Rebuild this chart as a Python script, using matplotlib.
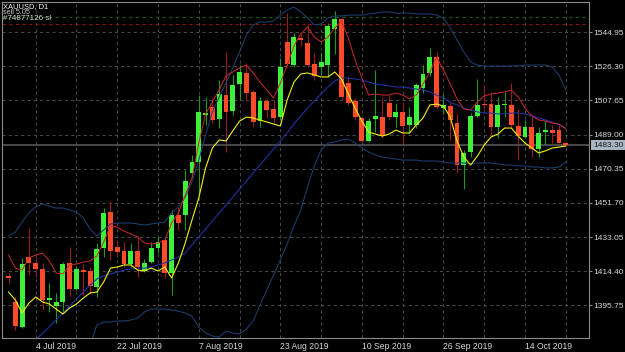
import numpy as np
import pandas as pd
import matplotlib
matplotlib.use("Agg")
import matplotlib.pyplot as plt
from matplotlib.transforms import blended_transform_factory

plt.rcParams['font.family'] = ['Liberation Sans', 'DejaVu Sans']

# ---------------- data (XAUUSD, D1) ----------------
dates = pd.bdate_range('2019-06-28', '2019-10-22')

open_ = [1411.5, 1397.7, 1384.1, 1422.3, 1419.0, 1415.6, 1398.8, 1395.5, 1397.4, 1418.7,
         1404.5, 1415.0, 1414.5, 1405.9, 1426.9, 1446.9, 1427.8, 1425.4, 1418.3, 1425.6,
         1414.7, 1419.6, 1426.9, 1431.4, 1413.2, 1445.1, 1445.1, 1468.2, 1474.2, 1499.7,
         1504.2, 1497.5, 1510.6, 1501.9, 1516.6, 1522.5, 1512.4, 1496.6, 1507.5, 1502.8,
         1498.5, 1539.8, 1527.0, 1541.6, 1538.9, 1527.6, 1526.1, 1527.0, 1546.5, 1552.2,
         1517.0, 1507.4, 1497.9, 1485.7, 1497.4, 1498.8, 1506.4, 1498.5, 1501.5, 1494.2,
         1494.2, 1514.3, 1522.8, 1531.6, 1503.5, 1504.6, 1495.2, 1472.4, 1479.7, 1499.2,
         1505.8, 1505.7, 1493.3, 1505.3, 1505.2, 1493.7, 1487.5, 1493.3, 1481.0, 1490.4,
         1491.5, 1491.5, 1484.3]
high = [1413.5, 1400.5, 1421.4, 1437.8, 1422.3, 1418.7, 1407.8, 1402.3, 1419.6, 1427.4,
        1417.2, 1418.3, 1416.8, 1429.6, 1448.7, 1452.9, 1431.4, 1430.5, 1429.6, 1433.6,
        1420.9, 1430.5, 1433.2, 1432.4, 1447.8, 1449.6, 1469.7, 1477.9, 1510.6, 1509.7,
        1508.8, 1518.8, 1534.3, 1521.6, 1527.0, 1528.0, 1513.4, 1509.7, 1508.8, 1507.9,
        1530.7, 1555.3, 1544.3, 1544.5, 1549.8, 1533.4, 1534.3, 1549.8, 1556.7, 1552.5,
        1520.6, 1508.8, 1498.8, 1497.9, 1524.3, 1509.3, 1510.6, 1506.4, 1507.0, 1504.2,
        1517.0, 1527.0, 1536.2, 1534.3, 1511.0, 1507.0, 1500.6, 1480.6, 1500.6, 1519.2,
        1516.0, 1511.6, 1509.7, 1512.4, 1517.0, 1502.8, 1497.0, 1498.8, 1493.3, 1497.0,
        1494.3, 1494.3, 1484.6]
low = [1407.5, 1382.3, 1383.2, 1412.3, 1411.4, 1393.2, 1392.3, 1385.9, 1391.4, 1401.0,
       1404.1, 1401.4, 1402.3, 1400.5, 1422.3, 1420.5, 1422.3, 1416.8, 1416.8, 1411.4,
       1414.1, 1418.7, 1424.2, 1410.5, 1401.4, 1436.9, 1436.9, 1466.0, 1456.9, 1494.2,
       1495.2, 1492.4, 1479.7, 1499.7, 1507.9, 1507.9, 1493.3, 1493.0, 1497.9, 1496.1,
       1497.0, 1526.1, 1526.1, 1537.4, 1526.1, 1518.9, 1521.6, 1520.6, 1532.8, 1507.9,
       1505.2, 1497.0, 1485.1, 1485.1, 1490.6, 1487.0, 1497.0, 1493.3, 1483.3, 1489.7,
       1492.4, 1511.6, 1521.0, 1503.4, 1500.0, 1486.0, 1467.9, 1459.1, 1476.9, 1498.8,
       1503.0, 1488.8, 1487.0, 1498.8, 1493.3, 1475.1, 1487.0, 1476.9, 1476.9, 1483.3,
       1484.3, 1484.3, 1482.9]
close = [1410.5, 1384.4, 1418.3, 1419.0, 1415.6, 1398.6, 1399.6, 1397.7, 1418.3, 1404.5,
         1415.4, 1414.0, 1406.5, 1426.5, 1446.0, 1425.6, 1425.0, 1418.3, 1425.6, 1416.5,
         1419.0, 1426.9, 1430.5, 1413.2, 1445.1, 1440.5, 1463.8, 1474.2, 1501.5, 1501.0,
         1496.9, 1511.0, 1501.2, 1516.1, 1523.4, 1511.9, 1496.1, 1507.4, 1502.4, 1497.9,
         1526.1, 1527.6, 1542.5, 1540.7, 1527.0, 1521.0, 1528.8, 1548.3, 1552.2, 1509.7,
         1506.4, 1498.8, 1485.7, 1496.4, 1499.2, 1488.5, 1498.5, 1501.5, 1493.7, 1498.8,
         1516.1, 1522.0, 1531.6, 1503.9, 1505.0, 1497.0, 1472.4, 1479.1, 1499.2, 1505.2,
         1505.0, 1493.3, 1505.2, 1505.9, 1494.3, 1488.3, 1493.0, 1481.0, 1490.1, 1491.5,
         1490.1, 1484.6, 1483.3]

red_line = [1423.2, 1416.1, 1415.0, 1421.6, 1423.2, 1424.3, 1420.0, 1413.4, 1412.9, 1417.8,
            1418.3, 1419.4, 1420.0, 1422.7, 1430.3, 1439.1, 1438.5, 1436.3, 1434.7, 1433.1,
            1429.8, 1429.2, 1429.8, 1431.4, 1440.7, 1446.2, 1456.0, 1465.3, 1484.4, 1500.3,
            1506.8, 1513.4, 1521.0, 1523.2, 1525.4, 1527.0, 1522.7, 1517.7, 1513.4, 1509.0,
            1517.2, 1527.0, 1537.4, 1544.0, 1547.8, 1542.3, 1539.6, 1542.3, 1547.2, 1551.1,
            1541.8, 1529.8, 1519.9, 1510.6, 1511.2, 1510.6, 1510.6, 1511.7, 1510.6, 1508.5,
            1510.6, 1516.7, 1523.2, 1531.4, 1524.3, 1516.7, 1508.5, 1503.0, 1502.4, 1506.8,
            1510.1, 1511.2, 1511.7, 1512.3, 1513.4, 1509.6, 1503.5, 1499.2, 1497.0, 1496.4,
            1495.3, 1494.8, 1492.1]
yellow_line = [1403.0, 1398.7, 1391.5, 1397.0, 1400.3, 1397.6, 1396.5, 1393.7, 1391.0, 1394.3,
               1396.5, 1399.7, 1402.5, 1403.0, 1408.5, 1416.1, 1416.7, 1417.8, 1417.8, 1415.0,
               1414.5, 1416.1, 1414.5, 1416.7, 1410.7, 1418.9, 1429.8, 1442.4, 1454.4, 1470.8,
               1481.7, 1486.1, 1485.5, 1491.0, 1496.4, 1498.6, 1498.1, 1497.0, 1495.9, 1494.8,
               1493.7, 1507.9, 1517.7, 1522.1, 1522.7, 1521.6, 1520.5, 1520.5, 1523.2, 1519.4,
               1511.2, 1503.5, 1496.4, 1490.4, 1489.3, 1488.2, 1489.3, 1491.5, 1489.9, 1489.9,
               1494.3, 1498.1, 1505.2, 1505.7, 1504.6, 1498.6, 1485.5, 1476.8, 1472.4, 1477.3,
               1483.3, 1487.7, 1489.3, 1492.6, 1492.6, 1488.2, 1484.4, 1481.7, 1479.0, 1480.1,
               1481.7, 1482.2, 1482.8]
bb_upper = [1433.6, 1435.8, 1441.3, 1446.2, 1449.5, 1451.1, 1450.0, 1448.9, 1448.9, 1447.8,
            1446.7, 1443.5, 1437.4, 1433.6, 1436.9, 1440.2, 1440.7, 1440.7, 1440.7, 1440.2,
            1439.6, 1440.2, 1440.7, 1441.3, 1446.2, 1449.5, 1454.9, 1463.1, 1475.1, 1488.8,
            1501.4, 1509.6, 1517.2, 1525.4, 1534.1, 1543.4, 1548.9, 1550.5, 1550.5, 1551.1,
            1554.3, 1557.1, 1558.7, 1556.0, 1552.7, 1548.9, 1549.4, 1552.7, 1553.8, 1553.8,
            1554.3, 1554.3, 1554.3, 1554.9, 1555.4, 1556.0, 1556.0, 1555.4, 1555.4, 1555.4,
            1554.9, 1554.9, 1554.9, 1554.3, 1552.7, 1547.2, 1540.7, 1534.1, 1528.7, 1527.0,
            1526.5, 1526.5, 1526.5, 1526.5, 1526.5, 1526.5, 1527.0, 1527.0, 1527.0, 1527.0,
            1525.9, 1521.6, 1513.4]
nan = float('nan')
bb_middle = [nan, nan, nan, nan, 1376.8, 1380.6, 1383.9, 1387.7, 1391.5, 1395.4,
             1399.2, 1403.0, 1406.8, 1410.1, 1411.8, 1412.9, 1413.9, 1415.0, 1415.6, 1416.1,
             1416.1, 1416.7, 1417.8, 1418.9, 1420.5, 1422.1, 1424.3, 1428.7, 1433.1, 1437.4,
             1441.8, 1446.2, 1450.5, 1454.9, 1459.3, 1463.7, 1468.0, 1472.4, 1476.8, 1481.1,
             1485.5, 1489.9, 1494.8, 1499.2, 1503.5, 1507.4, 1511.2, 1515.0, 1518.3, 1519.9,
             1519.9, 1519.4, 1518.8, 1517.7, 1516.7, 1516.1, 1515.6, 1515.0, 1515.0, 1514.5,
             1513.9, 1513.4, 1512.3, 1510.6, 1509.0, 1506.8, 1505.2, 1503.5, 1502.4, 1501.4,
             1500.8, 1500.8, 1500.3, 1500.3, 1500.8, 1500.8, 1500.3, 1499.2, 1498.1, 1497.0,
             1495.9, 1494.3, 1492.6]
bb_lower = [nan, nan, nan, nan, nan, nan, nan, nan, nan, nan,
            nan, nan, 1374.1, 1385.0, 1386.6, 1386.6, 1387.2, 1387.2, 1387.7, 1388.8,
            1392.1, 1393.7, 1393.7, 1393.7, 1393.2, 1392.6, 1391.5, 1389.9, 1383.9, 1380.6,
            1379.0, 1378.4, 1381.7, 1380.6, 1380.1, 1382.8, 1387.2, 1395.9, 1404.1, 1412.3,
            1420.5, 1429.2, 1439.1, 1447.8, 1460.4, 1471.9, 1480.6, 1484.4, 1485.0, 1486.1,
            1486.6, 1484.4, 1481.7, 1479.5, 1477.9, 1476.8, 1476.2, 1475.7, 1475.1, 1475.1,
            1475.1, 1474.6, 1474.6, 1474.6, 1474.0, 1473.5, 1473.5, 1473.5, 1473.0, 1473.5,
            1473.5, 1473.5, 1473.0, 1472.4, 1472.4, 1471.9, 1471.9, 1471.3, 1471.3, 1470.8,
            1470.8, 1471.3, 1474.0]

price_levels = [1395.75, 1414.40, 1433.05, 1451.70, 1470.35, 1489.00, 1507.65, 1526.30, 1544.95]
date_labels = ['4 Jul 2019', '22 Jul 2019', '7 Aug 2019', '23 Aug 2019',
               '10 Sep 2019', '26 Sep 2019', '14 Oct 2019']
bid = 1483.30
order_open = 1553.1
order_sl = 1549.3

# ---------------- figure ----------------
W, H = 625, 352
fig = plt.figure(figsize=(W / 100, H / 100), dpi=100, facecolor='black')
ax = fig.add_axes([2 / W, 14 / H, 587 / W, 336 / H], facecolor='black')

x = np.arange(len(close))
o = np.array(open_); c = np.array(close); h = np.array(high); l = np.array(low)
up = c >= o

bull, bear = '#3cf03c', '#fb4b2b'
bull_w, bear_w = '#1f9a1f', '#9a1c1c'

# grid
ax.set_yticks(price_levels)
ax.set_yticklabels([f'{v:.2f}' for v in price_levels])
label_pos = [dates.get_loc(pd.Timestamp(d)) for d in
             ['2019-07-04', '2019-07-22', '2019-08-07', '2019-08-23',
              '2019-09-10', '2019-09-26', '2019-10-14']]
ax.set_xticks(label_pos)
ax.set_xticklabels(date_labels)
ax.set_xticks([p + 6 for p in label_pos], minor=True)
gkw = dict(color='#464646', linestyle=(0, (3, 3)), linewidth=0.75)
ax.grid(True, which='major', axis='both', **gkw)
ax.grid(True, which='minor', axis='x', **gkw)
ax.set_axisbelow(True)

# order lines
ax.axhline(order_open, color='#0b5e0b', linestyle=(0, (3, 3)), linewidth=0.8, zorder=1)
ax.axhline(order_sl, color='#8a1212', linestyle=(0, (3, 3)), linewidth=0.8, zorder=1)

# candles
ax.vlines(x, l, h, colors=np.where(up, bull_w, bear_w), linewidth=0.8, zorder=2)
body_h = np.maximum(np.abs(c - o), 0.6)
body_b = np.minimum(o, c)
ax.bar(x, body_h, bottom=body_b, width=0.72, color=np.where(up, bull, bear),
       linewidth=0, zorder=3)

# bid line
ax.axhline(bid, color='#555555', linewidth=1.2, zorder=2)

# indicators
ax.plot(x, bb_upper, color='#1d3f70', linewidth=0.75, zorder=4)
ax.plot(x, bb_lower, color='#1d3f70', linewidth=0.75, zorder=4)
ax.plot(x, bb_middle, color='#2134a8', linewidth=0.75, zorder=4)
ax.plot(x, red_line, color='#cc2a2a', linewidth=0.7, zorder=5)
ax.plot(x, yellow_line, color='#f2f21a', linewidth=0.8, zorder=5)

ax.set_xlim(-0.96, 85.42)
ax.set_ylim(1377.9, 1561.45)

for s in ax.spines.values():
    s.set_color('#8c8c8c')
    s.set_linewidth(0.8)

ax.yaxis.tick_right()
ax.tick_params(axis='y', colors='#8c8c8c', labelcolor='#d8d8d8', labelsize=6.0,
               length=2, width=0.8, pad=1)
ax.tick_params(axis='x', which='both', colors='#8c8c8c', labelcolor='#d8d8d8',
               labelsize=6.2, length=0, pad=3)
for t in ax.get_xticklabels():
    t.set_horizontalalignment('left')

# bid label
tr = blended_transform_factory(ax.transAxes, ax.transData)
ax.text(1.0 + 4 / 587, bid, f'{bid:.2f}', transform=tr, ha='left', va='center',
        fontsize=6.0, color='#1a1a1a', clip_on=False, zorder=10,
        bbox=dict(boxstyle='square,pad=0.2', fc='#a9b6c4', ec='none'))

# top-left texts
fig.text(3 / W, 1 - 6.5 / H, 'XAUUSD, D1', ha='left', va='center', fontsize=5.4, color='white')
fig.text(3 / W, 1 - 12.5 / H, 'sell 5.05', ha='left', va='center', fontsize=5.2, color='#cfcfcf')
fig.text(3 / W, 1 - 18.5 / H, '#74877126 sl', ha='left', va='center', fontsize=5.8, color='#dddddd')

fig.savefig('out.png', dpi=100, facecolor='black')
